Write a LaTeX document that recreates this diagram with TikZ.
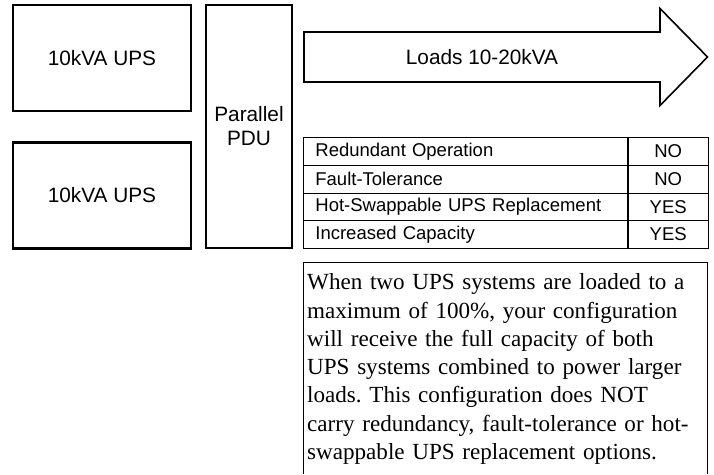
\documentclass[tikz,border=0pt]{standalone}
\usepackage{fontspec}
\setmainfont{Liberation Serif}
\setsansfont{Liberation Sans}
\usetikzlibrary{positioning}
\frenchspacing

\begin{document}
\begin{tikzpicture}[x=1pt,y=-1pt,font=\sffamily\fontsize{20.8}{24}\selectfont,
    unit/.style={draw,line width=2.2pt,minimum width=178pt,minimum height=106pt,inner sep=0pt},
    cell/.style={draw,line width=0.8pt,minimum height=27.75pt,inner ysep=0pt,font=\sffamily\fontsize{18.5}{20}\selectfont}]
    \useasboundingbox (0,0) rectangle (714,474);
    % UPS units and PDU
    \node[unit] (ups1) at (102,58) {10kVA UPS};
    \node[unit] (ups2) at (102,195.5) {10kVA UPS};
    \node[unit,minimum width=86pt,minimum height=243pt,align=center] (pdu) at (249,126.5) {Parallel\\PDU};
    % load arrow
    \draw[line width=1.6pt] (304,32) -- (660,32) -- (660,8.5) -- (707.5,57) -- (660,105.5) -- (660,82) -- (304,82) -- cycle;
    \node (load) at (482,57) {Loads 10-20kVA};
    % feature table
    \foreach \lbl/\val [count=\i] in {Redundant Operation/NO,Fault-Tolerance/NO,Hot-Swappable UPS Replacement/YES,Increased Capacity/YES}{
        \node[cell,anchor=north west,inner xsep=12pt,text width=300pt,align=left] (feat\i) at (303,{137+27.75*(\i-1)}) {\lbl};
        \node[cell,anchor=north west,minimum width=80pt,inner xsep=0pt] (ans\i) at (feat\i.north east) {\val};
    }
    % note
    \node[anchor=north west,inner xsep=4pt,inner ysep=11.5pt,text width=396pt,align=left,font=\rmfamily\fontsize{23.1}{28.3}\selectfont] (note) at (303,262)
        {When two UPS systems are loaded to a\\maximum of 100\%, your configuration\\will receive the full capacity of both\\UPS systems combined to power larger\\loads. This configuration does NOT\\carry redundancy, fault-tolerance or hot-\\swappable UPS replacement options.};
    \draw[line width=0.8pt] (note.north west |- 0,474) -- (note.north west) -- (note.north east) -- (note.north east |- 0,474);
\end{tikzpicture}
\end{document}
